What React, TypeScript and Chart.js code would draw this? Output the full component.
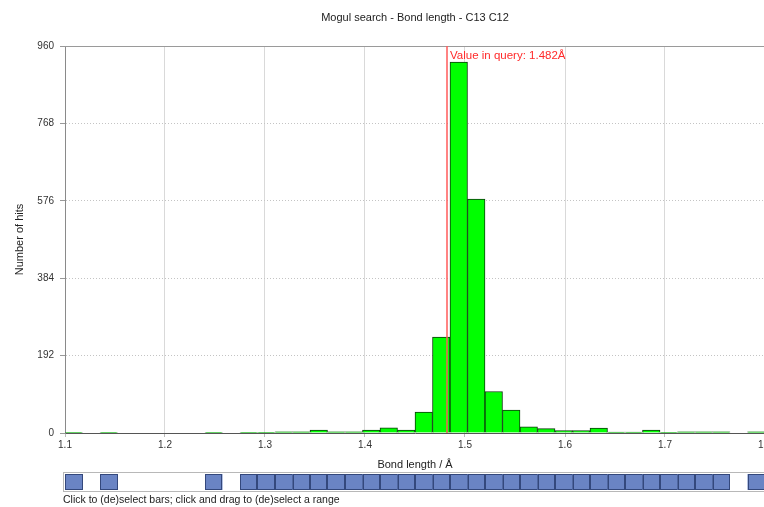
import React, { useEffect, useRef } from 'react';
import { Chart, registerables } from 'chart.js';

Chart.register(...registerables);

// ---- data ----
const titleText = 'Mogul search - Bond length - C13 C12';
const xAxisTitle = 'Bond length / Å';
const yAxisTitle = 'Number of hits';
const footerText = 'Click to (de)select bars; click and drag to (de)select a range';

const binStart = 1.1;
const binWidth = 0.0175;
const binCounts = [
  1, 0, 1, 0, 0, 0, 0, 0, 1, 0,
  1, 1, 3, 3, 7, 3, 3, 7, 13, 7,
  52, 238, 920, 580, 103, 57, 15, 11, 6, 6,
  12, 2, 2, 7, 1, 3, 3, 3, 0, 3,
];
const xTickValues = [1.1, 1.2, 1.3, 1.4, 1.5, 1.6, 1.7, 1.8];
const xTickLabels = ['1.1', '1.2', '1.3', '1.4', '1.5', '1.6', '1.7', '1.8'];
const yTickValues = [0, 192, 384, 576, 768, 960];
const yTickLabels = ['0', '192', '384', '576', '768', '960'];
const queryValue = 1.482;
const queryLabel = 'Value in query: 1.482Å';

const FONT = "'Liberation Sans', Arial, sans-serif";

const overlayPlugin = {
  id: 'overlay',
  afterDatasetsDraw(chart: any) {
    const { ctx, chartArea, scales } = chart;
    const x = scales.x;
    ctx.save();
    // top frame line
    ctx.strokeStyle = '#9a9a9a';
    ctx.lineWidth = 1;
    ctx.beginPath();
    ctx.moveTo(chartArea.left, Math.round(chartArea.top) + 0.5);
    ctx.lineTo(chartArea.right, Math.round(chartArea.top) + 0.5);
    ctx.stroke();
    // query line
    const qx = x.getPixelForValue(queryValue);
    ctx.strokeStyle = '#ff5a5a';
    ctx.lineWidth = 1.5;
    ctx.beginPath();
    ctx.moveTo(qx, chartArea.top);
    ctx.lineTo(qx, chartArea.bottom);
    ctx.stroke();
    ctx.fillStyle = '#ff2a2a';
    ctx.font = `11.5px ${FONT}`;
    ctx.textBaseline = 'top';
    ctx.textAlign = 'left';
    ctx.fillText(queryLabel, qx + 3, chartArea.top + 4);
    ctx.restore();
  },
  afterDraw(chart: any) {
    const { ctx, scales } = chart;
    const x = scales.x;
    const top = 474;
    const h = 16;
    const left = x.getPixelForValue(binStart);
    const right = x.getPixelForValue(binStart + binWidth * binCounts.length);
    ctx.save();
    ctx.fillStyle = '#ffffff';
    ctx.fillRect(left - 2, top - 2, right - left + 4, h + 4);
    ctx.strokeStyle = '#b8b8b8';
    ctx.lineWidth = 1;
    ctx.strokeRect(left - 1.5, top - 1.5, right - left + 3, h + 3);
    binCounts.forEach((c, i) => {
      const a = x.getPixelForValue(binStart + binWidth * i);
      const b = x.getPixelForValue(binStart + binWidth * (i + 1));
      if (c > 0) {
        ctx.fillStyle = '#6a84c4';
        ctx.fillRect(a, top, b - a, h);
        ctx.strokeStyle = '#34487c';
        ctx.strokeRect(Math.round(a) + 0.5, top + 0.5, Math.round(b) - Math.round(a) - 1, h - 1);
      }
    });
    ctx.restore();
  },
};

export default function App() {
  const canvasRef = useRef<HTMLCanvasElement | null>(null);

  useEffect(() => {
    if (!canvasRef.current) return;
    const data = binCounts.map((c, i) => ({ x: binStart + binWidth * (i + 0.5), y: c }));
    const chart = new Chart(canvasRef.current, {
      type: 'bar',
      data: {
        datasets: [
          {
            data: data as any,
            backgroundColor: '#00ff00',
            borderColor: '#0d3a0d',
            borderWidth: 1,
            barPercentage: 1,
            categoryPercentage: 1,
          },
        ],
      },
      options: {
        animation: false,
        responsive: true,
        maintainAspectRatio: false,
        layout: { padding: { left: 0, right: 35, top: 0, bottom: 34 } },
        plugins: {
          legend: { display: false },
          tooltip: { enabled: false },
          title: {
            display: true,
            text: titleText,
            fullSize: false,
            color: '#222',
            font: { family: FONT, size: 11, weight: 'normal' },
            padding: { top: 11.4, bottom: 21.4 },
          },
        },
        scales: {
          x: {
            type: 'linear',
            min: 1.1,
            max: 1.8,
            offset: false,
            afterFit: (s: any) => {
              s.height = 40;
            },
            afterBuildTicks: (s: any) => {
              s.ticks = xTickValues.map((v) => ({ value: v }));
            },
            ticks: {
              callback: (_v: any, i: number) => xTickLabels[i],
              color: '#333',
              font: { family: FONT, size: 10 },
              padding: 2,
              maxRotation: 0,
              autoSkip: false,
            },
            grid: { color: '#d9d9d9', offset: false, tickLength: 4, tickColor: '#bbb' },
            border: { color: '#555', width: 1 },
            title: {
              display: true,
              text: xAxisTitle,
              color: '#222',
              font: { family: FONT, size: 11 },
              padding: { top: 0, bottom: 1.4 },
            },
          },
          y: {
            min: 0,
            max: 960,
            afterFit: (s: any) => {
              s.width = 65;
            },
            afterBuildTicks: (s: any) => {
              s.ticks = yTickValues.map((v) => ({ value: v }));
            },
            ticks: {
              callback: (_v: any, i: number) => yTickLabels[i],
              color: '#333',
              font: { family: FONT, size: 10 },
              padding: 6,
            },
            grid: { color: '#c4c4c4', tickLength: 5, tickColor: '#999' },
            border: { color: '#8a8a8a', width: 1, dash: [1, 2] },
            title: {
              display: true,
              text: yAxisTitle,
              color: '#222',
              font: { family: FONT, size: 11 },
              padding: { top: 13.4, bottom: 0 },
            },
          },
        },
      },
      plugins: [overlayPlugin],
    } as any);
    return () => chart.destroy();
  }, []);

  return (
    <div
      style={{
        position: 'fixed',
        left: 0,
        top: 0,
        width: 764,
        height: 507,
        overflow: 'hidden',
        background: '#fff',
      }}
    >
      <div style={{ position: 'relative', width: 800, height: 507 }}>
        <canvas ref={canvasRef} />
      </div>
      <div
        style={{
          position: 'absolute',
          left: 63,
          top: 493,
          font: `10.5px ${FONT}`,
          color: '#222',
          whiteSpace: 'nowrap',
        }}
      >
        {footerText}
      </div>
    </div>
  );
}
